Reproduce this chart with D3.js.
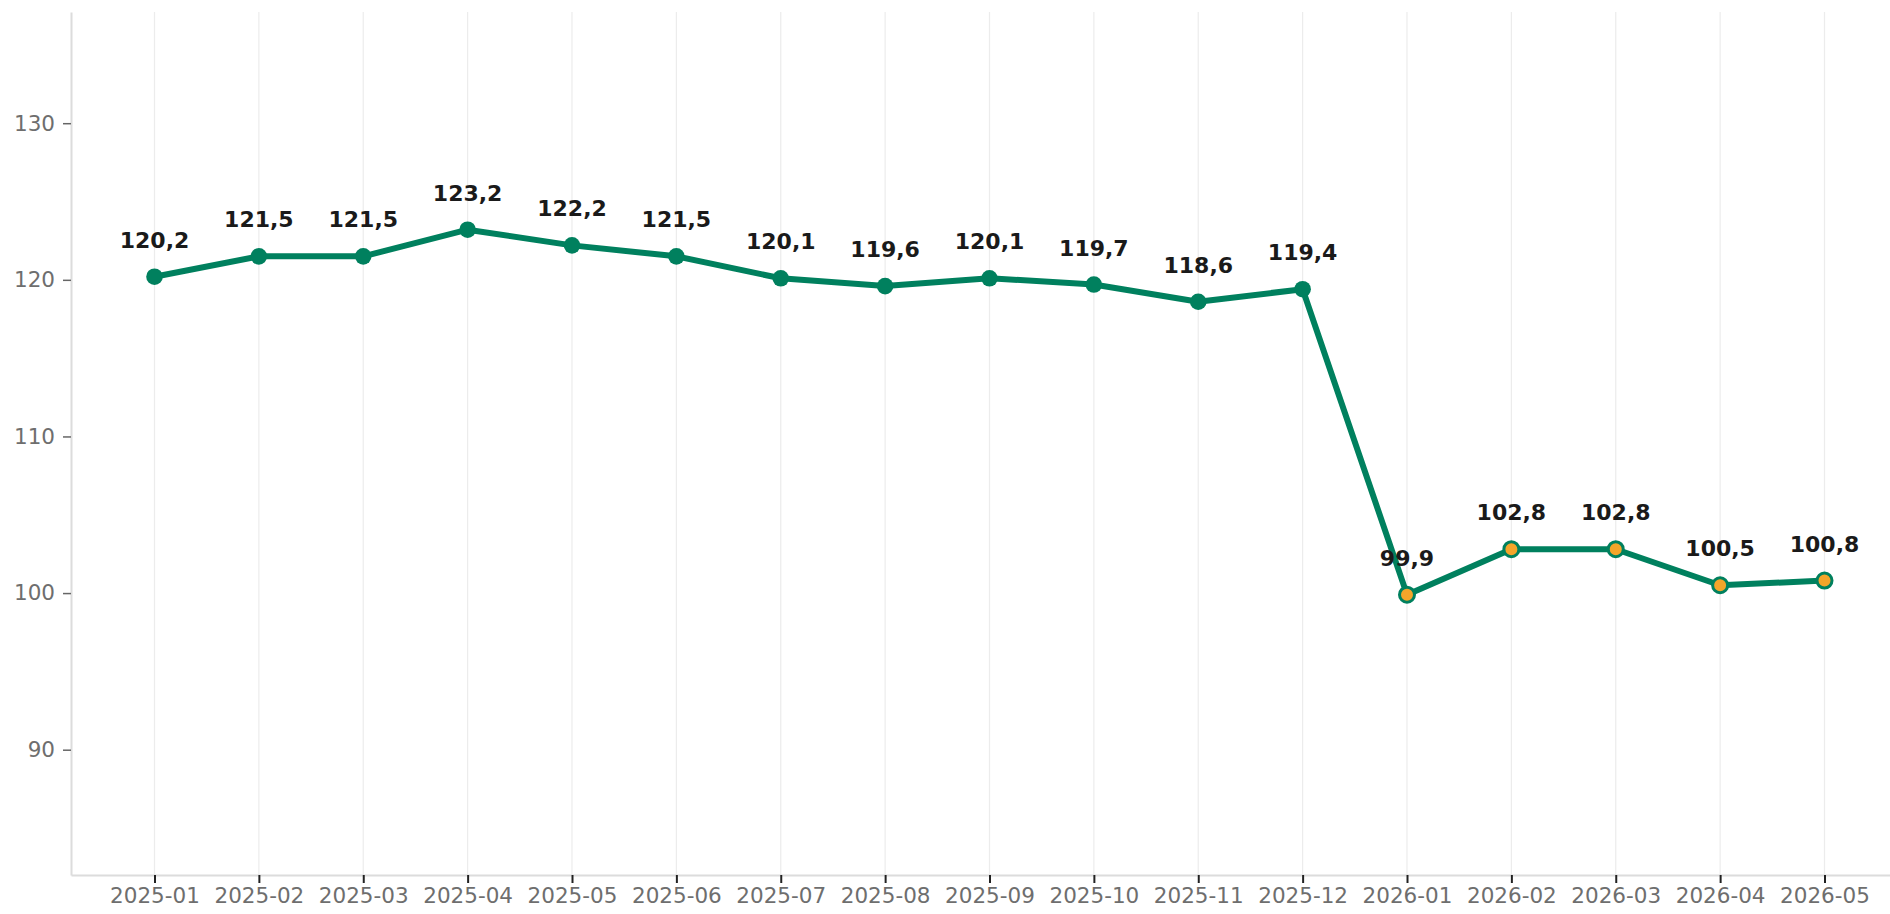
<!DOCTYPE html>
<html>
<head>
<meta charset="utf-8">
<script src="https://cdn.jsdelivr.net/npm/d3@7"></script>
<style>
  html, body { margin: 0; padding: 0; background: #fff; }
  svg { display: block; overflow: hidden; }
  text { font-family: "DejaVu Sans", sans-serif; }
</style>
</head>
<body>
<svg id="chart" width="1890" height="914"></svg>
<script>
// months on the x axis
const months = ["2025-01", "2025-02", "2025-03", "2025-04", "2025-05", "2025-06",
  "2025-07", "2025-08", "2025-09", "2025-10", "2025-11", "2025-12",
  "2026-01", "2026-02", "2026-03", "2026-04", "2026-05"];
// index values
const values = [120.2, 121.5, 121.5, 123.2, 122.2, 121.5, 120.1, 119.6, 120.1, 119.7,
  118.6, 119.4, 99.9, 102.8, 102.8, 100.5, 100.8];
// marker kind: actual vs highlighted
const kinds = ["a", "a", "a", "a", "a", "a", "a", "a", "a", "a", "a", "a",
  "h", "h", "h", "h", "h"];
const yTicks = [90, 100, 110, 120, 130];

const green = "#00805e";
const orange = "#f4a52a";

const svg = d3.select("#chart");
const margin = { left: 71, top: 12, bottom: 39 };
const plotW = 1837;
const plotH = 914 - margin.top - margin.bottom;

const g = svg.append("g").attr("transform", `translate(${margin.left},${margin.top})`);

const x = d3.scalePoint().domain(months).range([0, plotW]).padding(0.8);
const y = d3.scaleLinear().domain([82, 137.1]).range([plotH, 0]);

// vertical grid
g.append("g")
  .selectAll("line")
  .data(months)
  .join("line")
  .attr("x1", d => x(d)).attr("x2", d => x(d))
  .attr("y1", 0).attr("y2", plotH)
  .attr("stroke", "#ececec")
  .attr("stroke-width", 1.2);

// y axis
const yAxis = g.append("g")
  .call(d3.axisLeft(y).tickValues(yTicks).tickSize(8).tickSizeOuter(0).tickPadding(8));
yAxis.select(".domain").attr("stroke", "#dcdcdc").attr("stroke-width", 2);
yAxis.selectAll(".tick line").attr("stroke", "#666").attr("stroke-width", 1.5);
yAxis.selectAll(".tick text").attr("fill", "#6e6e6e").style("font-size", "21.5px");

// x axis
const xAxis = g.append("g")
  .attr("transform", `translate(0,${plotH})`)
  .call(d3.axisBottom(x).tickSize(8).tickSizeOuter(0).tickPadding(5));
xAxis.select(".domain").attr("stroke", "#dcdcdc").attr("stroke-width", 2);
xAxis.selectAll(".tick line").attr("stroke", "#222").attr("stroke-width", 2);
xAxis.selectAll(".tick text").attr("fill", "#6e6e6e").style("font-size", "21.5px");

const data = months.map((m, i) => ({ m, v: values[i], k: kinds[i] }));

// line
g.append("path")
  .datum(data)
  .attr("fill", "none")
  .attr("stroke", green)
  .attr("stroke-width", 6)
  .attr("stroke-linejoin", "round")
  .attr("d", d3.line().x(d => x(d.m)).y(d => y(d.v)));

// markers
g.append("g")
  .selectAll("circle")
  .data(data)
  .join("circle")
  .attr("cx", d => x(d.m))
  .attr("cy", d => y(d.v))
  .attr("r", d => d.k === "h" ? 7.5 : 8.3)
  .attr("fill", d => d.k === "h" ? orange : green)
  .attr("stroke", green)
  .attr("stroke-width", d => d.k === "h" ? 3 : 0);

// value labels
g.append("g")
  .selectAll("text")
  .data(data)
  .join("text")
  .attr("x", d => x(d.m))
  .attr("y", d => y(d.v) - 29)
  .attr("text-anchor", "middle")
  .attr("fill", "#1a1a1a")
  .style("font-size", "22px")
  .style("font-weight", "bold")
  .text(d => d.v.toFixed(1).replace(".", ","));
</script>
</body>
</html>
